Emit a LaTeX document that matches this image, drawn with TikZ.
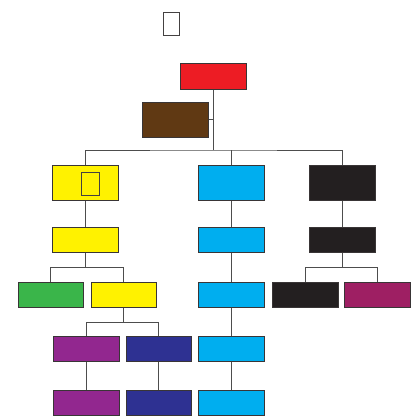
\documentclass[tikz,border=0pt]{standalone}
\usepackage{xcolor}
\usepackage{tikz}
\usetikzlibrary{calc}
\definecolor{cred}{HTML}{ED1C24}
\definecolor{cbrown}{HTML}{603913}
\definecolor{cyellow}{HTML}{FFF200}
\definecolor{ccyan}{HTML}{00AEEF}
\definecolor{cblack}{HTML}{231F20}
\definecolor{cgreen}{HTML}{3AB54A}
\definecolor{cpurple}{HTML}{92278F}
\definecolor{cnavy}{HTML}{2E3192}
\definecolor{cmagenta}{HTML}{9E1F63}
\definecolor{cline}{HTML}{4D4D4D}
\tikzset{
	blk/.style={draw=cblack!90, line width=1pt, inner sep=0pt,
		minimum width=66pt, minimum height=25pt},
	tall/.style={blk, minimum height=35pt},
	glyph/.style={draw=cblack!85, line width=1pt, inner sep=0pt,
		minimum width=16pt, minimum height=23pt},
	wire/.style={draw=cline, line width=1pt},
}
\begin{document}
\begin{tikzpicture}[x=1pt, y=-1pt]
				\useasboundingbox (0,0) rectangle (420,416);
				\node[glyph] at (171.00,23.50) (ttl) {};
				\node[blk, fill=cred, minimum height=26pt] at (213.00,76.00) (top) {};
				\node[tall, fill=cbrown] at (175.00,119.50) (side) {};
				\node[tall, fill=cyellow] at (85.00,182.50) (yA) {};
				\node[glyph, minimum width=18pt] at (90.00,183.50) (ymark) {};
				\node[tall, fill=ccyan] at (231.00,182.50) (cA) {};
				\node[tall, fill=cblack] at (342.00,182.50) (kA) {};
				\node[blk, fill=cyellow] at (85.00,239.50) (yB) {};
				\node[blk, fill=ccyan] at (231.00,239.50) (cB) {};
				\node[blk, fill=cblack] at (342.00,239.50) (kB) {};
				\node[blk, fill=cgreen, minimum width=65pt] at (50.50,294.50) (gA) {};
				\node[blk, fill=cyellow, minimum width=65pt] at (123.50,294.50) (yC) {};
				\node[blk, fill=ccyan] at (231.00,294.50) (cC) {};
				\node[blk, fill=cblack] at (305.00,294.50) (kC) {};
				\node[blk, fill=cmagenta] at (377.00,294.50) (mA) {};
				\node[blk, fill=cpurple] at (86.00,348.50) (pA) {};
				\node[blk, fill=cnavy, minimum width=65pt] at (158.50,348.50) (nA) {};
				\node[blk, fill=ccyan] at (231.00,348.50) (cD) {};
				\node[blk, fill=cpurple] at (86.00,402.50) (pB) {};
				\node[blk, fill=cnavy, minimum width=65pt] at (158.50,402.50) (nB) {};
				\node[blk, fill=ccyan] at (231.00,402.50) (cE) {};
				\coordinate (bus) at (213.00,150.00);
				\coordinate (splitY) at ($(yB.south)+(0,15)$);
				\coordinate (splitP) at ($(yC.south)+(0,15)$);
				\coordinate (splitK) at ($(kB.south)+(0,15)$);
				\path[wire] (top.south) -- (bus);
				\path[wire] (side.east) -- (side.east -| bus);
				\path[wire] (yA.north) |- (bus) -| (kA.north);
				\path[wire] (cA.north) -- (cA.north |- bus);
				\path[wire] (yA.south) -- (yB.north);
				\path[wire] (yB.south) -- (splitY);
				\path[wire] (gA.north) |- (splitY) -| (yC.north);
				\path[wire] (yC.south) -- (splitP);
				\path[wire] (pA.north) |- (splitP) -| (nA.north);
				\path[wire] (pA.south) -- (pB.north);
				\path[wire] (nA.south) -- (nB.north);
				\path[wire] (cA.south) -- (cB.north);
				\path[wire] (cB.south) -- (cC.north);
				\path[wire] (cC.south) -- (cD.north);
				\path[wire] (cD.south) -- (cE.north);
				\path[wire] (kA.south) -- (kB.north);
				\path[wire] (kB.south) -- (splitK);
				\path[wire] (kC.north) |- (splitK) -| (mA.north);
			\end{tikzpicture}
\end{document}
